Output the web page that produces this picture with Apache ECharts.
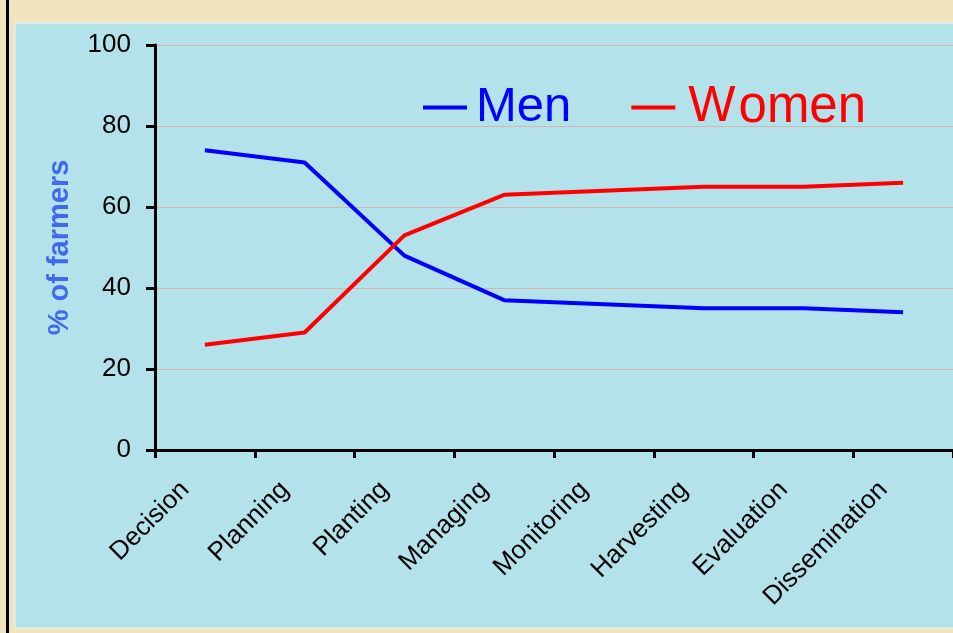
<!DOCTYPE html>
<html>
<head>
<meta charset="utf-8">
<script src="https://cdn.jsdelivr.net/npm/echarts@6/dist/echarts.min.js"></script>
<style>
html,body{margin:0;padding:0;background:#F2E3BF;}
#main{width:953px;height:633px;}
</style>
</head>
<body>
<div id="main"></div>
<script>
const categories = ['Decision','Planning','Planting','Managing','Monitoring','Harvesting','Evaluation','Dissemination'];
const menValues = [74, 71, 48, 37, 36, 35, 35, 34];
const womenValues = [26, 29, 53, 63, 64, 65, 65, 66];
const yTicks = [0, 20, 40, 60, 80, 100];

const chart = echarts.init(document.getElementById('main'), null, {renderer:'canvas'});
const font = 'Arial, "Liberation Sans", sans-serif';
chart.setOption({
  animation: false,
  backgroundColor: '#F2E3BF',
  graphic: [
    {type:'rect', shape:{x:6,y:0,width:3,height:633}, style:{fill:'#000'}, silent:true, z:-10},
    {type:'rect', shape:{x:15,y:23,width:940,height:605}, style:{fill:'#B4E2EB', stroke:'#E8F6F8', lineWidth:1}, silent:true, z:-10}
  ],
  grid: {left:155, top:45, right:-2, bottom:183, containLabel:false},
  legend: {
    left: 418, top: 77,
    itemWidth: 44, itemHeight: 4, itemGap: 60,
    icon: 'rect',
    textStyle: {fontSize: 49, fontFamily: font, padding:[0,0,0,4]},
    formatter: function (name) {
      return name === 'Women' ? '{w|W}{o|omen}' : '{m|Men}';
    },
    data: [
      {name:'Men', textStyle:{color:'#0000FF', rich:{m:{fontSize:49, fontFamily:font, color:'#0000FF'}}}},
      {name:'Women', textStyle:{color:'#FF0000', rich:{
        w:{fontSize:50, fontFamily:font, color:'#FF0000', padding:[0,3,0,4]},
        o:{fontSize:51, fontFamily:font, color:'#FF0000'}}}}
    ]
  },
  xAxis: {
    type: 'category',
    data: categories,
    boundaryGap: true,
    axisLine: {lineStyle:{color:'#000', width:3}},
    axisTick: {show:true, alignWithLabel:false, length:8, lineStyle:{color:'#000', width:3}},
    axisLabel: {rotate:45, fontSize:26, color:'#000', fontFamily:font, margin:16, padding:[0,28,0,0], interval:0}
  },
  yAxis: {
    type: 'value',
    min: 0, max: 100, interval: 20,
    name: '% of farmers',
    nameLocation: 'middle',
    nameGap: 81,
    nameRotate: 90,
    nameTextStyle: {color:'#4169F0', fontSize:29, fontWeight:'bold', fontFamily:font},
    axisLine: {show:true, lineStyle:{color:'#000', width:3}},
    axisTick: {show:true, inside:false, length:9, lineStyle:{color:'#000', width:3}},
    axisLabel: {fontSize:26, color:'#000', fontFamily:font, margin:24,
      formatter: v => yTicks.indexOf(v) >= 0 ? String(v) : ''},
    splitLine: {show:true, lineStyle:{color:'#D8B4AC', width:1}}
  },
  series: [
    {name:'Men', type:'line', data:menValues, symbol:'none', lineStyle:{color:'#0000FF', width:4}, itemStyle:{color:'#0000FF'}},
    {name:'Women', type:'line', data:womenValues, symbol:'none', lineStyle:{color:'#FF0000', width:4}, itemStyle:{color:'#FF0000'}}
  ]
});
</script>
</body>
</html>
